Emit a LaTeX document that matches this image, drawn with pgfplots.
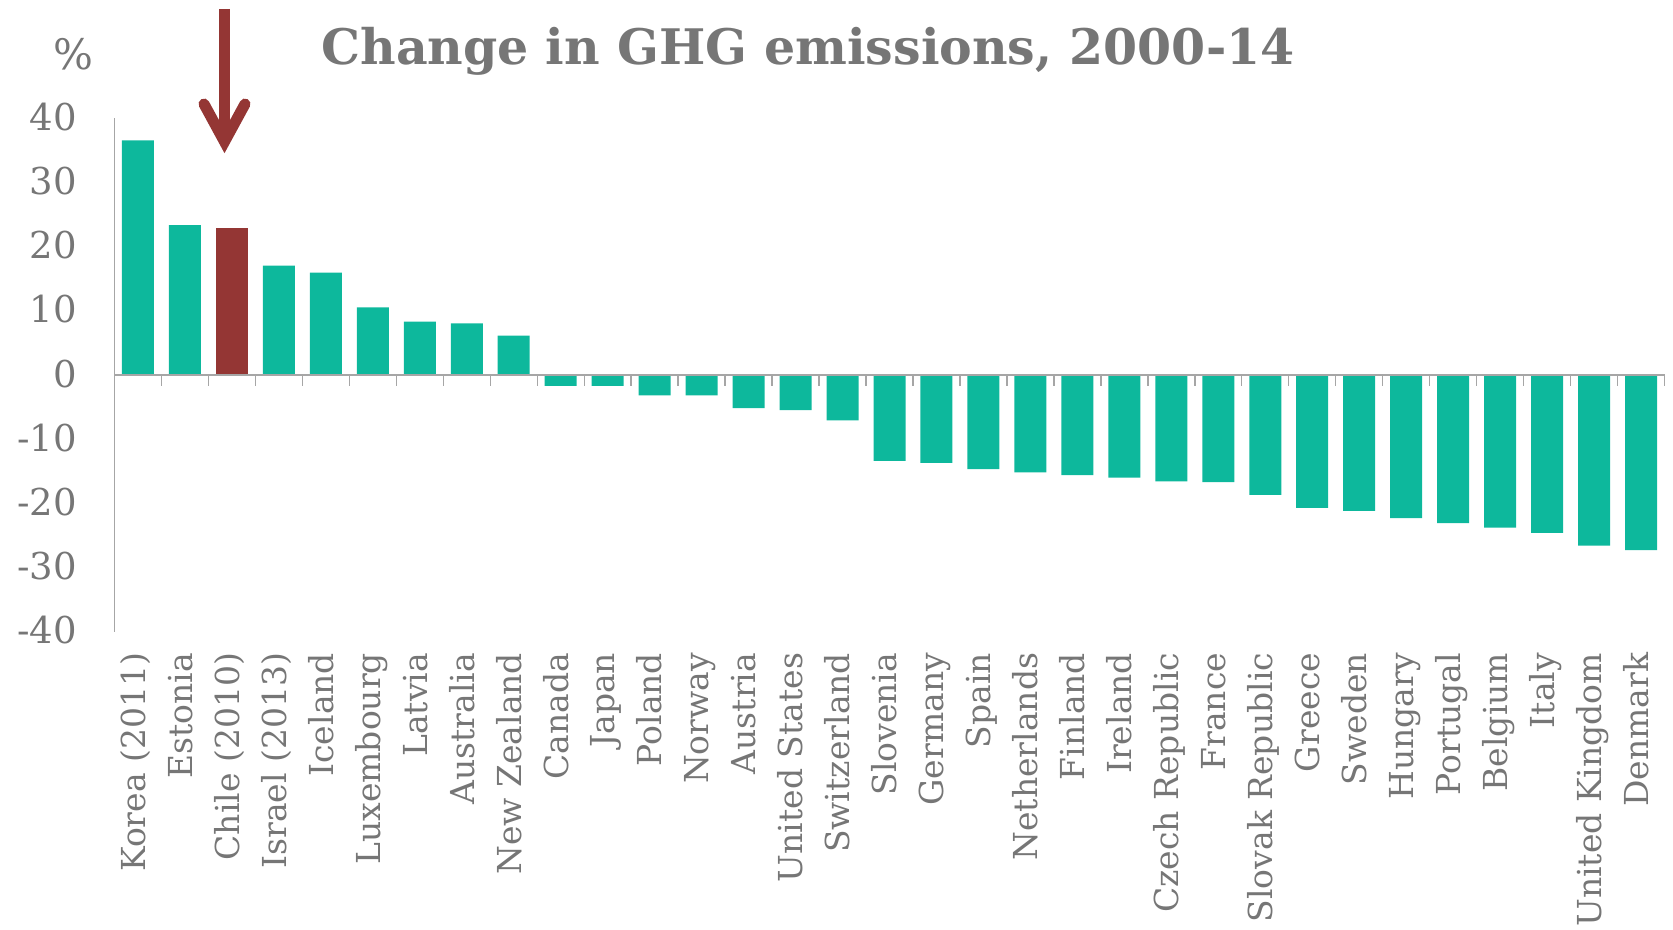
\documentclass[border=0pt]{standalone}
\usepackage{pgfplots}
\pgfplotsset{compat=1.18}
\usepackage{fontspec}
\setmainfont{DejaVu Serif}
\definecolor{barteal}{HTML}{0DB89C}
\definecolor{chilered}{HTML}{943634}
\definecolor{txtgray}{HTML}{767676}
\definecolor{axgray}{HTML}{A6A6A6}
\begin{document}
\begin{tikzpicture}
\useasboundingbox (0,0) rectangle (836.5pt,465pt);
\begin{axis}[
  at={(57.25pt,149.15pt)}, anchor=south west,
  scale only axis, width=775pt, height=256.85pt,
  xmin=-0.5, xmax=32.5, ymin=-40, ymax=40,
  axis y line*=left, axis x line*=bottom,
  x axis line style={draw=none},
  y axis line style={draw=axgray, line width=0.7pt},
  ytick={-40,-30,...,40},
  yticklabels={-40,-30,-20,-10,0,10,20,30,40},
  xtick={0,...,32},
  xticklabels={Korea (2011),Estonia,Chile (2010),Israel (2013),Iceland,Luxembourg,Latvia,Australia,New Zealand,Canada,Japan,Poland,Norway,Austria,United States,Switzerland,Slovenia,Germany,Spain,Netherlands,Finland,Ireland,Czech Republic,France,Slovak Republic,Greece,Sweden,Hungary,Portugal,Belgium,Italy,United Kingdom,Denmark},
  major tick length=0pt,
  tick style={draw=none},
  xticklabel style={rotate=90, anchor=east, inner sep=0pt, text height=0.73em, text depth=0pt, font=\fontsize{16.5}{19}\selectfont, text=txtgray, xshift=0.6pt},
  xticklabel shift=11pt,
  yticklabel style={anchor=east, inner sep=0pt, text height=0.73em, text depth=0pt, font=\fontsize{18.5}{21}\selectfont, text=txtgray, xshift=-18.75pt, yshift=-2.5pt},
  ybar, bar width=16pt, bar shift=0pt,
  clip=false,
]
\addplot[fill=barteal, draw=none] coordinates {
 (0,36.5) (1,23.3) (3,17.0) (4,15.9) (5,10.5) (6,8.3) (7,8.0) (8,6.1)
 (9,-1.7) (10,-1.7) (11,-3.2) (12,-3.2) (13,-5.2) (14,-5.5) (15,-7.1)
 (16,-13.4) (17,-13.7) (18,-14.7) (19,-15.2) (20,-15.6) (21,-16.0)
 (22,-16.6) (23,-16.7) (24,-18.7) (25,-20.7) (26,-21.2) (27,-22.3)
 (28,-23.1) (29,-23.8) (30,-24.6) (31,-26.6) (32,-27.3)
};
\addplot[fill=chilered, draw=none] coordinates {(2,22.9)};
\draw[axgray, line width=0.75pt] (axis cs:-0.5,0) -- (axis cs:32.5,0);
\pgfplotsinvokeforeach{-0.5,0.5,...,32.5}{\draw[axgray, line width=0.7pt] (axis cs:#1,0) -- ++(0pt,-5.8pt);}
\end{axis}
\node[font=\bfseries\fontsize{24.5}{28}\selectfont, text=txtgray] at (404pt,439.5pt) {Change in GHG emissions, 2000-14};
\node[font=\fontsize{21}{23}\selectfont, text=txtgray] at (36.5pt,438pt) {\%};
\draw[chilered, line width=5.5pt] (112.25pt,460.5pt) -- (112.25pt,396pt);
\draw[chilered, line width=5.5pt, line cap=round, line join=miter] (102pt,413pt) -- (112.25pt,394.15pt) -- (122.5pt,413pt);
\end{tikzpicture}
\end{document}
